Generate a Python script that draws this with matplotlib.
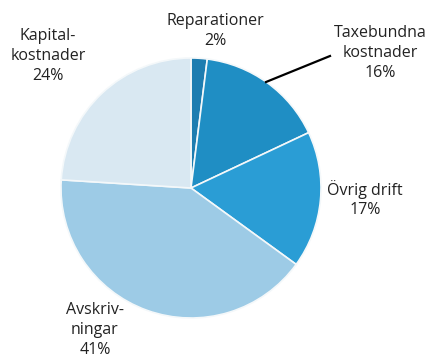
import matplotlib
matplotlib.use("Agg")
import matplotlib.pyplot as plt

labels = ["Reparationer\n2%", "Taxebundna\nkostnader\n16%", "Övrig drift\n17%",
          "Avskriv-\nningar\n41%", "Kapital-\nkostnader\n24%"]
values = [2, 16, 17, 41, 24]
colors = ["#1e7db0", "#1f8ec4", "#2a9dd5", "#9dcbe6", "#d9e8f2"]

W, H = 427, 361
fig = plt.figure(figsize=(W / 100, H / 100), dpi=100)
cx, cy, r = 191, 188, 130
ax = fig.add_axes([(cx - r) / W, 1 - (cy + r) / H, 2 * r / W, 2 * r / H])
ax.pie(values, colors=colors, startangle=90, counterclock=False,
       wedgeprops=dict(edgecolor="#f4f8fa", linewidth=1.2))
ax.set_xlim(-1, 1); ax.set_ylim(-1, 1)
ax.set_aspect("equal")

pos = [(215, 31), (380, 53), (365, 199), (95, 330), (48, 56)]
for lab, (x, y) in zip(labels, pos):
    fig.text(x / W, 1 - y / H, lab, ha="center", va="center", fontsize=11.5,
             color="#222222", linespacing=1.33, family=['Open Sans', 'DejaVu Sans'])

fig.add_artist(plt.Line2D([266 / W, 330 / W], [1 - 82 / H, 1 - 56 / H],
                          color="black", linewidth=1.6))
fig.savefig("out.png", dpi=100, facecolor="white")
